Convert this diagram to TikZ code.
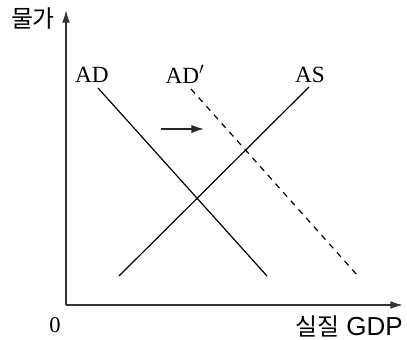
\documentclass[tikz,border=0pt]{standalone}
\usepackage{fontspec}
\setmainfont{Liberation Serif}
\setsansfont{Liberation Sans}
\newfontfamily\kofont{Noto Sans CJK KR}
\usetikzlibrary{arrows.meta}

\begin{document}
\begin{tikzpicture}[
    x=0.025cm, y=-0.025cm,
    axis/.style={draw=black!80, line width=1.1pt, -{Latex[length=9pt, width=5.5pt]}},
    curve/.style={draw=black, line width=0.85pt},
    shifted/.style={curve, dash pattern=on 4.2pt off 4pt},
    shiftarrow/.style={draw=black!85, line width=1.1pt, -{Latex[length=9pt, width=6pt]}},
    curvelabel/.style={font=\fontsize{16.5}{17}\selectfont, inner sep=0pt},
    axislabel/.style={font=\kofont\fontsize{17}{18}\selectfont, inner sep=0pt}
]
\useasboundingbox (0,0) rectangle (407,340);

% axes
\coordinate (origin) at (66,305);
\coordinate (ytip) at (66,10);
\coordinate (xtip) at (403,305);
\draw[axis] (origin) -- (ytip);
\draw[axis] (origin) -- (xtip);

\node[axislabel] (price) at (33,19) {물가};
\node[font=\fontsize{16}{16}\selectfont, inner sep=0pt] (zero) at (55,325) {0};
\node[axislabel, anchor=base east] (gdp) at (403,335)
    {실질\hspace{5pt}{\sffamily\fontsize{18.5}{19}\selectfont GDP}};

% curves
\coordinate (ad top) at (98,88);
\coordinate (ad bot) at (267,276);
\coordinate (as bot) at (119,276);
\coordinate (as top) at (309,87);
\coordinate (adp top) at (191,89);
\coordinate (adp bot) at (358,276);

\draw[curve] (ad top) -- (ad bot);
\draw[curve] (as bot) -- (as top);
\draw[shifted] (adp top) -- (adp bot);

\node[curvelabel] (adlabel) at (92,74.5) {AD};
\node[curvelabel] (adplabel) at (185,74.5) {AD$'$};
\node[curvelabel] (aslabel) at (310,74.5) {AS};

% shift of demand
\coordinate (shift start) at (161,129);
\coordinate (shift end) at (204,129);
\draw[shiftarrow] (shift start) -- (shift end);

\end{tikzpicture}
\end{document}
